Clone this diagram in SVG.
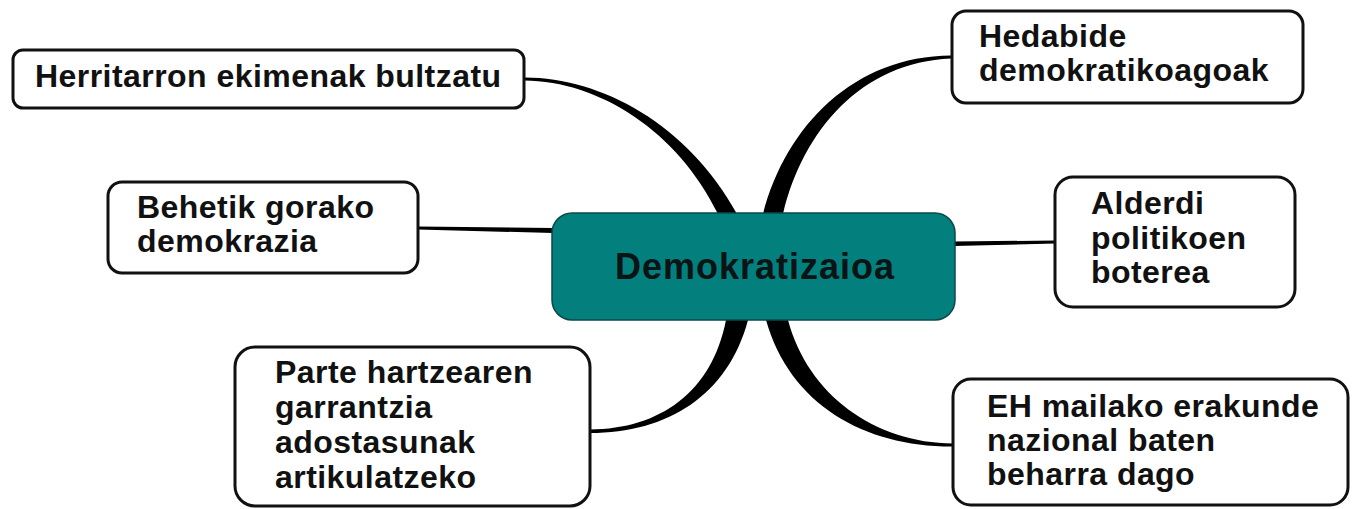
<svg xmlns="http://www.w3.org/2000/svg" width="1352" height="509" viewBox="0 0 1352 509">
<style>
.box{fill:#ffffff;stroke:#111111;stroke-width:3}
.center{fill:#037f7d;stroke:#0b4a48;stroke-width:1.5}
.t{font-family:"Liberation Sans",Arial,sans-serif;font-weight:bold;font-size:32px;letter-spacing:0.45px;fill:#111111}
.ct{font-family:"Liberation Sans",Arial,sans-serif;font-weight:bold;font-size:36px;letter-spacing:1px;fill:#0a1414}
.c{fill:#000000}
</style>
<rect width="1352" height="509" fill="#ffffff"/>
<g id="connectors">
<path class="c" d="M524,77.5 C600,77 688,124 737,214 L718,214 C678,132 600,81 524,80.5 Z"/>
<path class="c" d="M763,214 C786,125 855,56 951,55.5 L951,58.5 C862,62 803,130 783,214 Z"/>
<path class="c" d="M726,320 C712,392 660,429 590,429.5 L590,433 C668,433 728,395 748,320 Z"/>
<path class="c" d="M766,320 C790,405 865,447 953,446.5 L953,443.5 C875,443 808,395 788,320 Z"/>
<path class="c" d="M418,226.5 L553,228 L553,233 L418,229.5 Z"/>
<path class="c" d="M954,241.5 L1055,240.5 L1055,243.5 L954,246 Z"/>
</g>
<g id="center">
<rect class="center" x="552" y="213" width="403" height="107" rx="20" ry="20"/>
<text class="ct" x="615" y="279">Demokratizaioa</text>
</g>
<g id="n1">
<rect class="box" x="13" y="50" width="511" height="58" rx="10" ry="10"/>
<text class="t" x="35" y="87">Herritarron ekimenak bultzatu</text>
</g>
<g id="n2">
<rect class="box" x="952" y="11" width="351" height="92" rx="14" ry="14"/>
<text class="t" x="979" y="47">Hedabide</text>
<text class="t" x="979" y="81">demokratikoagoak</text>
</g>
<g id="n3">
<rect class="box" x="108" y="182" width="310" height="91" rx="14" ry="14"/>
<text class="t" x="137" y="218">Behetik gorako</text>
<text class="t" x="137" y="252">demokrazia</text>
</g>
<g id="n4">
<rect class="box" x="1055" y="177" width="240" height="130" rx="18" ry="18"/>
<text class="t" x="1091" y="214">Alderdi</text>
<text class="t" x="1091" y="249">politikoen</text>
<text class="t" x="1091" y="283">boterea</text>
</g>
<g id="n5">
<rect class="box" x="953" y="379" width="395" height="126" rx="18" ry="18"/>
<text class="t" x="987" y="417">EH mailako erakunde</text>
<text class="t" x="987" y="451">nazional baten</text>
<text class="t" x="987" y="485">beharra dago</text>
</g>
<g id="n6">
<rect class="box" x="235" y="347" width="355" height="159" rx="20" ry="20"/>
<text class="t" x="275" y="383">Parte hartzearen</text>
<text class="t" x="275" y="418">garrantzia</text>
<text class="t" x="275" y="453">adostasunak</text>
<text class="t" x="275" y="488">artikulatzeko</text>
</g>
</svg>
